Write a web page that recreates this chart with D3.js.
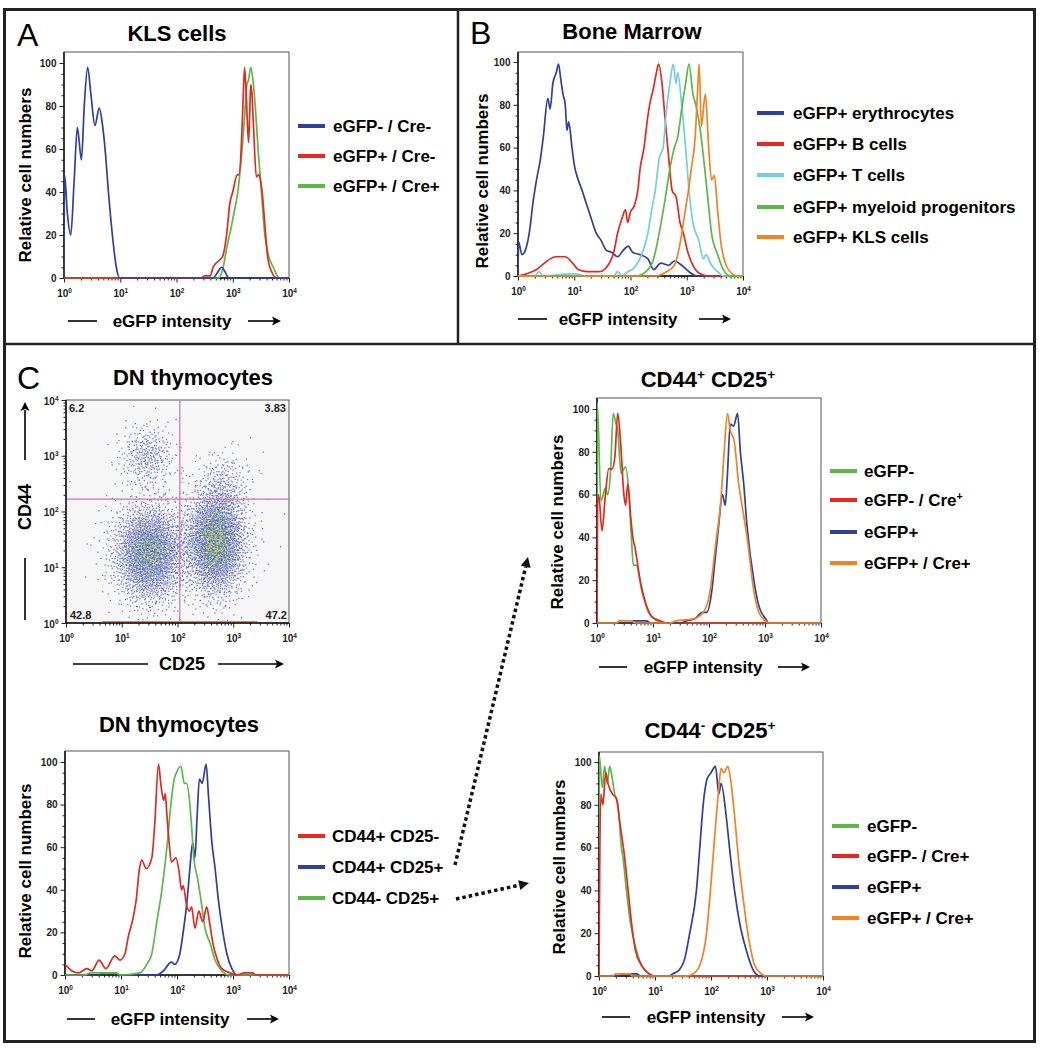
<!DOCTYPE html>
<html><head><meta charset="utf-8">
<script src="https://cdn.jsdelivr.net/npm/d3@7"></script>
<style>
body{margin:0;background:#fff}
svg{display:block}
text{font-family:"Liberation Sans",Arial,Helvetica,sans-serif}
</style>
</head><body>
<svg id="fig" width="1043" height="1050"></svg>
<script>
// ---------------- DATA (x = log10 eGFP intensity, y = relative cell number) ----------------
// Panel A: KLS cells
const klsNegCreNeg = [[0,0],[0.01,48],[0.06,30],[0.12,20],[0.18,45],[0.237,70],[0.31,55],[0.36,80],[0.42,98],[0.48,85],[0.55,71],[0.627,79],[0.68,72],[0.73,60],[0.79,40],[0.86,20],[0.93,5],[0.99,0],[2.65,0],[2.74,3],[2.8,5],[2.86,3],[2.93,0],[4,0]];
const klsPosCreNeg = [[0,0],[2.44,0],[2.5,1],[2.6,1],[2.65,5],[2.75,8],[2.82,10],[2.89,20],[2.95,35],[3.0,40],[3.08,48],[3.11,48],[3.15,60],[3.18,80],[3.21,98],[3.24,85],[3.28,63],[3.3,75],[3.32,90],[3.34,86],[3.37,70],[3.42,47],[3.46,48],[3.49,46],[3.53,38],[3.57,25],[3.62,10],[3.69,3],[3.78,0],[4,0]];
const klsPosCrePos = [[0,0],[2.75,0],[2.83,5],[2.9,15],[2.96,22],[3.02,30],[3.09,40],[3.15,55],[3.21,75],[3.25,90],[3.28,92],[3.32,98],[3.36,92],[3.4,80],[3.45,60],[3.51,40],[3.57,20],[3.64,10],[3.72,5],[3.83,0],[4,0]];
const klsLabels = ["eGFP- / Cre-","eGFP+ / Cre-","eGFP+ / Cre+"];

// Panel B: Bone marrow
const bmErythrocytes = [[0,0],[0.01,16],[0.07,10],[0.13,12],[0.2,20],[0.27,35],[0.33,45],[0.4,55],[0.45,65],[0.53,83],[0.57,78],[0.62,90],[0.68,95],[0.72,99],[0.76,92],[0.8,85],[0.84,80],[0.87,68],[0.9,72],[0.96,60],[1.0,52],[1.07,45],[1.14,40],[1.2,35],[1.3,27],[1.39,20],[1.47,17],[1.57,12],[1.67,11],[1.77,9],[1.87,12],[1.96,14],[2.04,11],[2.17,10],[2.31,8],[2.41,3],[2.54,6],[2.68,5],[2.78,7],[2.91,5],[3.04,2],[3.18,0],[4,0]];
const bmBcells = [[0,0],[0.15,1],[0.33,3],[0.47,6],[0.57,8],[0.67,9],[0.84,9],[0.97,6],[1.07,3],[1.24,2],[1.44,2],[1.57,4],[1.71,12],[1.77,20],[1.85,27],[1.91,31],[1.95,25],[2.0,30],[2.07,33],[2.13,40],[2.17,50],[2.24,60],[2.31,75],[2.34,80],[2.41,88],[2.46,95],[2.5,99],[2.56,90],[2.61,75],[2.68,55],[2.74,40],[2.81,37],[2.88,25],[2.94,20],[3.01,12],[3.11,5],[3.24,1],[3.38,0],[4,0]];
const bmTcells = [[0,0],[0.3,0],[0.37,2],[0.45,0],[0.95,1],[1.05,1],[1.2,0],[1.7,0],[1.77,2],[1.85,0],[1.95,2],[2.03,3],[2.1,5],[2.2,10],[2.31,20],[2.37,30],[2.44,40],[2.51,55],[2.58,60],[2.63,75],[2.7,90],[2.76,99],[2.81,90],[2.84,95],[2.91,80],[2.98,60],[3.04,40],[3.11,25],[3.21,17],[3.3,8],[3.34,10],[3.44,5],[3.55,2],[3.65,0],[4,0]];
const bmMyeloid = [[0,0],[2.1,0],[2.31,3],[2.41,8],[2.51,20],[2.61,35],[2.7,50],[2.78,60],[2.84,65],[2.92,80],[2.98,90],[3.04,99],[3.11,85],[3.16,80],[3.23,70],[3.3,55],[3.38,35],[3.44,20],[3.55,10],[3.65,3],[3.78,0],[4,0]];
const bmKLS = [[0,0],[2.44,0],[2.64,2],[2.78,5],[2.88,15],[2.97,30],[3.03,40],[3.08,50],[3.15,65],[3.19,85],[3.22,99],[3.26,70],[3.33,85],[3.39,60],[3.44,45],[3.49,47],[3.55,30],[3.61,15],[3.7,5],[3.81,1],[3.91,0],[4,0]];
const bmLabels = ["eGFP+ erythrocytes","eGFP+ B cells","eGFP+ T cells","eGFP+ myeloid progenitors","eGFP+ KLS cells"];

// Panel C: DN thymocyte histogram
const dnCD44pCD25n = [[0,5],[0.12,2],[0.24,1],[0.39,3],[0.48,2],[0.61,7],[0.73,3],[0.89,9],[0.98,7],[1.07,10],[1.13,18],[1.21,26],[1.27,35],[1.33,50],[1.37,54],[1.45,50],[1.55,55],[1.6,70],[1.67,99],[1.71,90],[1.76,82],[1.79,85],[1.82,75],[1.86,62],[1.9,53],[1.98,55],[2.04,48],[2.08,40],[2.11,42],[2.17,33],[2.22,30],[2.26,32],[2.32,22],[2.39,30],[2.46,25],[2.53,32],[2.58,25],[2.64,15],[2.71,8],[2.8,3],[2.95,1],[3.07,0],[3.2,1],[3.35,1],[3.4,0],[4,0]];
const dnCD44pCD25p = [[0,0],[0.6,0],[0.68,1],[0.9,1],[0.98,0],[1.64,0],[1.76,2],[1.9,6],[1.96,5],[2.05,10],[2.11,20],[2.18,35],[2.23,50],[2.28,62],[2.32,55],[2.36,75],[2.4,92],[2.45,90],[2.52,99],[2.56,85],[2.62,63],[2.68,50],[2.74,35],[2.82,20],[2.89,10],[2.98,3],[3.07,0],[4,0]];
const dnCD44nCD25p = [[0,0],[0.35,0],[0.45,1],[0.9,1],[1.0,0],[1.34,1],[1.46,5],[1.55,10],[1.64,25],[1.73,40],[1.82,60],[1.89,80],[1.95,92],[1.99,95],[2.07,98],[2.13,90],[2.17,90],[2.23,80],[2.26,70],[2.3,55],[2.37,45],[2.44,33],[2.5,22],[2.59,15],[2.68,7],[2.8,2],[2.92,0],[4,0]];
const dnLabels = ["CD44+ CD25-","CD44+ CD25+","CD44- CD25+"];

// CD44+ CD25+ subset
const ppNeg = [[0,0],[0.005,103],[0.07,57],[0.15,63],[0.19,60],[0.24,70],[0.29,98],[0.34,93],[0.37,90],[0.43,70],[0.51,73],[0.57,60],[0.61,42],[0.65,27],[0.7,27],[0.8,15],[0.92,5],[1.07,1],[1.19,0],[4,0]];
const ppNegCre = [[0,0],[0.01,55],[0.03,60],[0.09,43],[0.15,60],[0.21,72],[0.27,72],[0.32,78],[0.37,98],[0.42,85],[0.48,60],[0.51,55],[0.55,65],[0.6,50],[0.64,40],[0.68,35],[0.77,20],[0.86,10],[0.98,3],[1.13,1],[1.25,0],[4,0]];
const ppPos = [[0,0],[0.6,0],[0.65,1],[0.89,1],[0.95,0],[1.5,0],[1.6,1],[1.75,2],[1.88,5],[1.96,5],[2.05,15],[2.11,30],[2.17,45],[2.24,60],[2.29,55],[2.33,70],[2.38,93],[2.44,92],[2.51,98],[2.56,80],[2.62,65],[2.68,45],[2.8,20],[2.89,8],[3.01,2],[3.07,0],[4,0]];
const ppPosCre = [[0,0],[0.35,0],[0.4,1],[0.6,1],[0.7,0],[1.3,0],[1.4,1],[1.73,2],[1.9,5],[2.02,15],[2.11,35],[2.22,60],[2.27,80],[2.33,98],[2.38,90],[2.45,85],[2.53,65],[2.59,55],[2.68,40],[2.8,15],[2.89,5],[3.01,1],[3.07,0],[4,0]];
const ppLabels = ["eGFP-","eGFP- / Cre^+","eGFP+","eGFP+ / Cre+"];

// CD44- CD25+ subset
const npNeg = [[0,0],[0.005,103],[0.06,88],[0.1,98],[0.15,90],[0.19,98],[0.22,95],[0.28,85],[0.34,80],[0.4,60],[0.43,55],[0.49,40],[0.56,25],[0.64,15],[0.76,5],[0.85,2],[0.96,0],[4,0]];
const npNegCre = [[0,0],[0.03,85],[0.07,80],[0.12,95],[0.16,90],[0.24,85],[0.31,83],[0.37,72],[0.46,55],[0.52,40],[0.58,25],[0.65,12],[0.76,5],[0.9,1],[1.02,0],[4,0]];
const npPos = [[0,0],[0.35,0],[0.43,1],[0.67,1],[0.75,0],[1.25,0],[1.32,1],[1.44,3],[1.53,8],[1.62,20],[1.74,40],[1.8,60],[1.86,80],[1.93,92],[2.0,95],[2.08,98],[2.14,85],[2.18,90],[2.27,75],[2.33,60],[2.42,40],[2.51,25],[2.63,12],[2.75,3],[2.87,0],[4,0]];
const npPosCre = [[0,0],[0.25,0],[0.3,1],[0.55,1],[0.6,0],[1.55,0],[1.68,1],[1.8,5],[1.92,20],[1.99,40],[2.05,60],[2.13,85],[2.18,97],[2.23,95],[2.3,98],[2.35,92],[2.42,75],[2.49,55],[2.58,35],[2.69,15],[2.78,5],[2.9,1],[2.99,0],[4,0]];
const npLabels = ["eGFP-","eGFP- / Cre+","eGFP+","eGFP+ / Cre+"];

// DN thymocyte dot plot (CD25 vs CD44), event clusters in log10 units
const scatterClusters = [
  {cx:1.50, cy:1.25, sx:0.32, sy:0.44, n:2300},
  {cx:2.68, cy:1.45, sx:0.27, sy:0.47, n:2500},
  {cx:1.45, cy:3.00, sx:0.25, sy:0.28, n:330},
  {cx:2.85, cy:2.45, sx:0.23, sy:0.32, n:210},
  {cx:2.10, cy:1.60, sx:0.85, sy:0.80, n:160}
];
const gateCD25 = 110, gateCD44 = 167;
const quadrantPct = {UL:"6.2", UR:"3.83", LL:"42.8", LR:"47.2"};
const bottomPile = [4.5, 2700];
const majorTicks = [1,10,100,1000,10000];
const yMajor = [0,20,40,60,80,100];

// ---------------- COLORS ----------------
const C = {blue:"#2f3f9e", red:"#e8281e", green:"#5ab947", cyan:"#6fd0e2", orange:"#f58220"};

const svg = d3.select("#fig");
const FS = 17;

function rich(sel, str, fs){
  const parts = str.split(/(\^.)/).filter(p=>p.length);
  let up = false;
  parts.forEach(p=>{
    if (p[0]==='^'){
      sel.append('tspan').attr('dy', -fs*0.38).attr('font-size', fs*0.62).text(p[1]);
      up = true;
    } else {
      const t = sel.append('tspan').text(p);
      if (up){ t.attr('dy', fs*0.38); up=false; }
    }
  });
}

function arrowRight(g, x1, x2, y){
  g.append('line').attr('x1',x1).attr('x2',x2-6).attr('y1',y).attr('y2',y).attr('stroke','#000').attr('stroke-width',1.6);
  g.append('path').attr('d',`M${x2},${y} L${x2-9},${y-4.5} L${x2-7},${y} L${x2-9},${y+4.5} Z`).attr('fill','#000');
}

function styleAxis(a){
  a.select('.domain').remove();
  a.selectAll('line').attr('stroke','#222').attr('stroke-width',1);
  a.selectAll('text').attr('font-size',10).attr('font-weight','bold').attr('fill','#222')
   .attr('font-family','"Liberation Sans",Arial,sans-serif');
}

function logXAxis(g, x, y0){
  const minor = x.ticks().filter(v=>!majorTicks.includes(v));
  const am = g.append('g').attr('transform',`translate(0,${y0})`)
    .call(d3.axisBottom(x).tickValues(minor).tickSize(2.5).tickFormat(''));
  styleAxis(am);
  const a = g.append('g').attr('transform',`translate(0,${y0})`)
    .call(d3.axisBottom(x).tickValues(majorTicks).tickSize(4.5).tickPadding(5).tickFormat(()=>''));
  styleAxis(a);
  a.selectAll('.tick text').each(function(d){
    const t = d3.select(this).text(null).attr('dy','0.9em');
    rich(t, '10^'+Math.round(Math.log10(d)), 10.5);
  });
}

function histPanel(cfg){
  const g = svg.append('g');
  const x = d3.scaleLog().domain([1,1e4]).range([cfg.left,cfg.right]);
  const y = d3.scaleLinear().domain([0,100]).range([cfg.y0,cfg.y100]);
  g.append('rect').attr('x',cfg.left).attr('y',cfg.top).attr('width',cfg.right-cfg.left).attr('height',cfg.y0-cfg.top)
    .attr('fill','none').attr('stroke','#555').attr('stroke-width',1);
  const ym = g.append('g').attr('transform',`translate(${cfg.left},0)`)
    .call(d3.axisLeft(y).tickValues(d3.range(0,101,5).filter(v=>!yMajor.includes(v))).tickSize(2.5).tickFormat(''));
  styleAxis(ym);
  const ya = g.append('g').attr('transform',`translate(${cfg.left},0)`)
    .call(d3.axisLeft(y).tickValues(yMajor).tickSize(4.5).tickPadding(3));
  styleAxis(ya);
  logXAxis(g, x, cfg.y0);
  g.append('line').attr('x1',cfg.left).attr('x2',cfg.left).attr('y1',cfg.top).attr('y2',cfg.y0).attr('stroke','#111').attr('stroke-width',1.5);
  g.append('line').attr('x1',cfg.left).attr('x2',cfg.right).attr('y1',cfg.y0).attr('y2',cfg.y0).attr('stroke','#111').attr('stroke-width',1.5);
  const cid = 'clip'+cfg.id;
  svg.append('clipPath').attr('id',cid).append('rect').attr('x',cfg.left).attr('y',cfg.top).attr('width',cfg.right-cfg.left+1).attr('height',cfg.y0-cfg.top+1);
  const line = d3.line().x(d=>x(Math.pow(10,d[0]))).y(d=>y(d[1])).curve(d3.curveMonotoneX);
  cfg.draw.forEach(s=>{
    g.append('path').attr('d',line(s.data)).attr('fill','none').attr('stroke',s.color).attr('stroke-width',1.7)
      .attr('stroke-linejoin','round').attr('clip-path',`url(#${cid})`);
  });
  const tt = g.append('text').attr('x',cfg.titleX).attr('y',cfg.titleY).attr('text-anchor','middle')
    .attr('font-size',22).attr('font-weight','bold');
  rich(tt, cfg.title, 22);
  g.append('text').attr('transform',`translate(${cfg.yTitleX},${cfg.yTitleY}) rotate(-90)`)
    .attr('text-anchor','middle').attr('dy','0.35em').attr('font-size',FS).attr('font-weight','bold').text('Relative cell numbers');
  const xt = cfg.xTitle;
  g.append('line').attr('x1',xt.d1).attr('x2',xt.d2).attr('y1',xt.y-6).attr('y2',xt.y-6).attr('stroke','#000').attr('stroke-width',1.6);
  g.append('text').attr('x',xt.tx).attr('y',xt.y).attr('text-anchor','middle').attr('font-size',FS).attr('font-weight','bold').text('eGFP intensity');
  arrowRight(g, xt.a1, xt.a2, xt.y-6);
  const L = cfg.legend;
  L.items.forEach((it,i)=>{
    const yy = L.ys[i];
    g.append('line').attr('x1',L.x1).attr('x2',L.x2).attr('y1',yy).attr('y2',yy).attr('stroke',it.color).attr('stroke-width',4);
    const t = g.append('text').attr('x',L.tx).attr('y',yy).attr('dy','0.36em').attr('font-size',FS).attr('font-weight','bold');
    rich(t, it.label, FS);
  });
}

// ---------------- BORDERS & LETTERS ----------------
svg.append('rect').attr('x',4.5).attr('y',9.5).attr('width',1030).attr('height',1032).attr('fill','none').attr('stroke','#222').attr('stroke-width',3);
svg.append('line').attr('x1',458).attr('x2',458).attr('y1',9).attr('y2',344).attr('stroke','#222').attr('stroke-width',2.5);
svg.append('line').attr('x1',4).attr('x2',1035).attr('y1',344).attr('y2',344).attr('stroke','#222').attr('stroke-width',2.5);
[['A',17,46],['B',470,44],['C',17,389]].forEach(([s,x,y])=>{
  svg.append('text').attr('x',x).attr('y',y).attr('font-size',32).text(s);
});

// ---------------- PANEL A ----------------
histPanel({id:'A', left:64, right:289, top:52, y0:278, y100:63,
  title:'KLS cells', titleX:177, titleY:41, yTitleX:25, yTitleY:175,
  xTitle:{d1:68,d2:97,tx:172,y:327,a1:248,a2:281},
  draw:[{data:klsPosCrePos,color:C.green},{data:klsPosCreNeg,color:C.red},{data:klsNegCreNeg,color:C.blue}],
  legend:{x1:298,x2:325,tx:333,ys:[126,156,186],items:[
    {label:klsLabels[0],color:C.blue},{label:klsLabels[1],color:C.red},{label:klsLabels[2],color:C.green}]}
});

// ---------------- PANEL B ----------------
histPanel({id:'B', left:518, right:743, top:52, y0:276, y100:62,
  title:'Bone Marrow', titleX:632, titleY:39, yTitleX:482, yTitleY:181,
  xTitle:{d1:518,d2:547,tx:618,y:325,a1:699,a2:731},
  draw:[{data:bmErythrocytes,color:C.blue},{data:bmBcells,color:C.red},{data:bmTcells,color:C.cyan},{data:bmMyeloid,color:C.green},{data:bmKLS,color:C.orange}],
  legend:{x1:757,x2:784,tx:793,ys:[113,144,175,207,237],items:[
    {label:bmLabels[0],color:C.blue},{label:bmLabels[1],color:C.red},{label:bmLabels[2],color:C.cyan},{label:bmLabels[3],color:C.green},{label:bmLabels[4],color:C.orange}]}
});

// ---------------- PANEL C histograms ----------------
histPanel({id:'DN', left:65, right:289, top:751, y0:975, y100:762,
  title:'DN thymocytes', titleX:179, titleY:732, yTitleX:25, yTitleY:871,
  xTitle:{d1:67,d2:95,tx:170,y:1025,a1:247,a2:279},
  draw:[{data:dnCD44pCD25p,color:C.blue},{data:dnCD44nCD25p,color:C.green},{data:dnCD44pCD25n,color:C.red}],
  legend:{x1:298,x2:325,tx:332,ys:[836,867,898],items:[
    {label:dnLabels[0],color:C.red},{label:dnLabels[1],color:C.blue},{label:dnLabels[2],color:C.green}]}
});

histPanel({id:'PP', left:597, right:821, top:398, y0:623, y100:409,
  title:'CD44^+ CD25^+', titleX:708, titleY:387, yTitleX:557, yTitleY:522,
  xTitle:{d1:599,d2:627,tx:703,y:673,a1:778,a2:810},
  draw:[{data:ppNeg,color:C.green},{data:ppNegCre,color:C.red},{data:ppPos,color:C.blue},{data:ppPosCre,color:C.orange}],
  legend:{x1:830,x2:857,tx:864,ys:[471,500,532,563],items:[
    {label:ppLabels[0],color:C.green},{label:ppLabels[1],color:C.red},{label:ppLabels[2],color:C.blue},{label:ppLabels[3],color:C.orange}]}
});

histPanel({id:'NP', left:599, right:823, top:752, y0:976, y100:762,
  title:'CD44^- CD25^+', titleX:710, titleY:738, yTitleX:559, yTitleY:867,
  xTitle:{d1:602,d2:630,tx:706,y:1023,a1:782,a2:814},
  draw:[{data:npNeg,color:C.green},{data:npNegCre,color:C.red},{data:npPos,color:C.blue},{data:npPosCre,color:C.orange}],
  legend:{x1:832,x2:859,tx:867,ys:[826,856,887,918],items:[
    {label:npLabels[0],color:C.green},{label:npLabels[1],color:C.red},{label:npLabels[2],color:C.blue},{label:npLabels[3],color:C.orange}]}
});

// ---------------- PANEL C dot plot ----------------
(function(){
  const g = svg.append('g');
  const L=66,R=289,T=400,B=623;
  const x = d3.scaleLog().domain([1,1e4]).range([L,R]);
  const y = d3.scaleLog().domain([1,1e4]).range([B,T]);
  g.append('rect').attr('x',L).attr('y',T).attr('width',R-L).attr('height',B-T).attr('fill','#f6f6f6').attr('stroke','#555').attr('stroke-width',1);
  function halton(i,b){let f=1,r=0;while(i>0){f/=b;r+=f*(i%b);i=Math.floor(i/b);}return r;}
  function dens(lx,ly){
    let s=0;
    scatterClusters.forEach(c=>{const dx=(lx-c.cx)/c.sx, dy=(ly-c.cy)/c.sy; s+=c.n/(c.sx*c.sy)*Math.exp(-0.5*(dx*dx+dy*dy));});
    return s;
  }
  const dmax = d3.max(scatterClusters, c=>dens(c.cx,c.cy));
  const pts=[];
  scatterClusters.forEach((c,k)=>{
    const off = 37 + k*5003;
    const rot = k*0.9;
    for(let i=1;i<=c.n;i++){
      const u1 = Math.max(1e-6, halton(i+off,2)), u2 = halton(i+off,3), u3 = halton(i+off,5);
      const r = Math.sqrt(-2*Math.log(u1)), th = 2*Math.PI*u2 + rot;
      let lx = c.cx + c.sx*r*Math.cos(th), ly = c.cy + c.sy*r*Math.sin(th);
      if(lx<0.02||lx>3.98||ly>3.98) continue;
      let col;
      if(ly<0){ ly=0; col=C.orange; }
      else {
        const p = Math.max(0, Math.min(1,(dens(lx,ly)/dmax-0.4)/0.6));
        col = u3 < p*0.18 ? '#e4e23c' : (u3 < p*0.5 ? '#74c043' : '#4452b8');
      }
      pts.push({lx,ly,col});
    }
  });
  g.selectAll('rect.ev').data(pts).join('rect').attr('class','ev')
    .attr('x',d=>x(Math.pow(10,d.lx))-0.6).attr('y',d=>y(Math.pow(10,d.ly))-0.6)
    .attr('width',1.2).attr('height',1.2).attr('fill',d=>d.col).attr('opacity',0.8);
  g.append('line').attr('x1',x(bottomPile[0])).attr('x2',x(bottomPile[1])).attr('y1',B-1).attr('y2',B-1)
    .attr('stroke',C.orange).attr('stroke-width',2);
  g.append('line').attr('x1',x(gateCD25)).attr('x2',x(gateCD25)).attr('y1',T).attr('y2',B).attr('stroke','#d16fb6').attr('stroke-width',1.2);
  g.append('line').attr('x1',L).attr('x2',R).attr('y1',y(gateCD44)).attr('y2',y(gateCD44)).attr('stroke','#d16fb6').attr('stroke-width',1.2);
  const minor = x.ticks().filter(v=>!majorTicks.includes(v));
  const axm = g.append('g').attr('transform',`translate(0,${B})`).call(d3.axisBottom(x).tickValues(minor).tickSize(2.5).tickFormat(''));
  styleAxis(axm);
  const ax = g.append('g').attr('transform',`translate(0,${B})`).call(d3.axisBottom(x).tickValues(majorTicks).tickSize(4.5).tickPadding(5).tickFormat(()=>''));
  styleAxis(ax);
  ax.selectAll('.tick text').each(function(d){ const t=d3.select(this).text(null).attr('dy','0.9em'); rich(t,'10^'+Math.round(Math.log10(d)),10.5); });
  const aym = g.append('g').attr('transform',`translate(${L},0)`).call(d3.axisLeft(y).tickValues(minor).tickSize(2.5).tickFormat(''));
  styleAxis(aym);
  const ay = g.append('g').attr('transform',`translate(${L},0)`).call(d3.axisLeft(y).tickValues(majorTicks).tickSize(4.5).tickPadding(3).tickFormat(()=>''));
  styleAxis(ay);
  ay.selectAll('.tick text').each(function(d){ const t=d3.select(this).text(null).attr('dy','0.4em'); rich(t,'10^'+Math.round(Math.log10(d)),10.5); });
  g.append('line').attr('x1',L).attr('x2',L).attr('y1',T).attr('y2',B).attr('stroke','#111').attr('stroke-width',1.5);
  g.append('line').attr('x1',L).attr('x2',R).attr('y1',B).attr('y2',B).attr('stroke','#111').attr('stroke-width',1.5);
  const q = (t,xx,yy,anc)=>g.append('text').attr('x',xx).attr('y',yy).attr('text-anchor',anc).attr('font-size',11).attr('font-weight','bold').attr('fill','#222').text(t);
  q(quadrantPct.UL,L+3,T+12,'start'); q(quadrantPct.UR,R-3,T+12,'end');
  q(quadrantPct.LL,L+4,B-4,'start'); q(quadrantPct.LR,R-2,B-4,'end');
  g.append('text').attr('x',193).attr('y',385).attr('text-anchor','middle').attr('font-size',22).attr('font-weight','bold').text('DN thymocytes');
  g.append('text').attr('x',182).attr('y',670).attr('text-anchor','middle').attr('font-size',18).attr('font-weight','bold').text('CD25');
  g.append('line').attr('x1',73).attr('x2',148).attr('y1',664).attr('y2',664).attr('stroke','#000').attr('stroke-width',1.6);
  arrowRight(g,218,284,664);
  g.append('text').attr('transform','translate(25,507) rotate(-90)').attr('text-anchor','middle').attr('dy','0.35em').attr('font-size',18).attr('font-weight','bold').text('CD44');
  g.append('line').attr('x1',25).attr('x2',25).attr('y1',558).attr('y2',620).attr('stroke','#000').attr('stroke-width',1.6);
  g.append('line').attr('x1',25).attr('x2',25).attr('y1',460).attr('y2',410).attr('stroke','#000').attr('stroke-width',1.6);
  g.append('path').attr('d','M25,402 L20.5,411 L25,409 L29.5,411 Z').attr('fill','#000');
})();

// ---------------- dotted connector arrows ----------------
function dotArrow(x1,y1,x2,y2){
  const dx=x2-x1, dy=y2-y1, len=Math.hypot(dx,dy), ux=dx/len, uy=dy/len;
  const bx=x2-ux*10, by=y2-uy*10;
  svg.append('line').attr('x1',x1).attr('y1',y1).attr('x2',bx).attr('y2',by).attr('stroke','#111').attr('stroke-width',3.5).attr('stroke-dasharray','3.5,3');
  svg.append('path').attr('d',`M${x2},${y2} L${bx-uy*5},${by+ux*5} L${bx+uy*5},${by-ux*5} Z`).attr('fill','#111');
}
dotArrow(455,865,528,557);
dotArrow(456,899,529,883);
</script>
</body></html>
